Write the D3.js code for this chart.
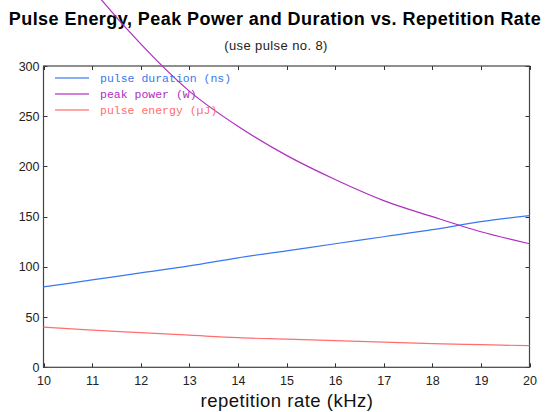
<!DOCTYPE html>
<html><head><meta charset="utf-8">
<script src="https://cdn.jsdelivr.net/npm/d3@7"></script>
<style>body{margin:0;background:#fff}svg{display:block}</style>
</head><body><div id="chart"></div>
<script>
const rates = [10,11,12,13,14,15,16,17,18,19,20];
const pulseDuration = [80,87,94,101,109,116,123,130,137,145,151];
const peakPower = [440,377,322,275,240,211,187,166,150,135,123];
const pulseEnergy = [40,37,34.5,32,29.5,28,26.5,25,23.5,22.5,21.5];
const xTicks = [10,11,12,13,14,15,16,17,18,19,20];
const yTicks = [0,50,100,150,200,250,300];
const seriesNames = ["pulse duration (ns)","peak power (W)","pulse energy (\u00b5J)"];
const seriesColors = ["#3a78f0","#b02ec0","#ff6e6e"];

const W=545,H=412;
const L=43.5,R=529.5,T=66,B=367.3;
const svg=d3.select("#chart").append("svg").attr("width",W).attr("height",H);
const x=d3.scaleLinear().domain([10,20]).range([L,R]);
const y=d3.scaleLinear().domain([0,300]).range([B,T]);

svg.append("text").attr("x",275).attr("y",25).attr("text-anchor","middle")
  .attr("font-family","Liberation Sans, Arial, sans-serif").attr("font-weight","bold").attr("font-size",18).attr("letter-spacing",0.45).text("Pulse Energy, Peak Power and Duration vs. Repetition Rate");
svg.append("text").attr("x",276).attr("y",50).attr("text-anchor","middle")
  .attr("font-family","Liberation Sans, Arial, sans-serif").attr("font-size",13).attr("letter-spacing",0.4).attr("fill","#222").text("(use pulse no. 8)");

const tickFont=g=>g.selectAll("text").attr("font-family","Liberation Sans, Arial, sans-serif").attr("font-size",12.5).attr("fill","#222");
const gx=svg.append("g").attr("transform",`translate(0,${B})`).call(d3.axisBottom(x).tickValues(xTicks).tickSize(0).tickPadding(9).tickFormat(d3.format("d")));
gx.call(tickFont); gx.select(".domain").remove();
const gy=svg.append("g").attr("transform",`translate(${L},0)`).call(d3.axisLeft(y).tickValues(yTicks).tickSize(0).tickPadding(4));
gy.call(tickFont); gy.select(".domain").remove();

// inward tick marks on all sides
const tk=svg.append("g").attr("stroke","#333").attr("stroke-width",1);
xTicks.forEach(v=>{tk.append("line").attr("x1",Math.round(x(v))+0.5).attr("x2",Math.round(x(v))+0.5).attr("y1",B).attr("y2",B-4);
 tk.append("line").attr("x1",Math.round(x(v))+0.5).attr("x2",Math.round(x(v))+0.5).attr("y1",T).attr("y2",T+4);});
yTicks.forEach(v=>{tk.append("line").attr("y1",Math.round(y(v))+0.5).attr("y2",Math.round(y(v))+0.5).attr("x1",L).attr("x2",L+4);
 tk.append("line").attr("y1",Math.round(y(v))+0.5).attr("y2",Math.round(y(v))+0.5).attr("x1",R).attr("x2",R-4);});

svg.append("rect").attr("x",L).attr("y",T).attr("width",R-L).attr("height",B-T)
  .attr("fill","none").attr("stroke","#444").attr("stroke-width",1.2);

const line=d3.line().x((d,i)=>x(rates[i])).y(d=>y(d)).curve(d3.curveMonotoneX);
[pulseDuration,peakPower,pulseEnergy].forEach((s,i)=>{
  svg.append("path").datum(s).attr("d",line).attr("fill","none").attr("stroke",seriesColors[i]).attr("stroke-width",1.2);
});

const lg=svg.append("g");
seriesNames.forEach((n,i)=>{
  const yy=78+i*16;
  lg.append("line").attr("x1",55).attr("x2",89).attr("y1",yy).attr("y2",yy).attr("stroke",seriesColors[i]).attr("stroke-width",1.5).attr("opacity",0.8);
  lg.append("text").attr("x",100).attr("y",yy+4).attr("font-family","Liberation Mono, Courier New, monospace").attr("font-size",11.5).attr("fill",seriesColors[i]).text(n);
});

svg.append("text").attr("x",287).attr("y",407).attr("text-anchor","middle")
  .attr("font-family","Liberation Sans, Arial, sans-serif").attr("font-size",18.5).attr("letter-spacing",0.5).attr("fill","#111").text("repetition rate (kHz)");
</script></body></html>
